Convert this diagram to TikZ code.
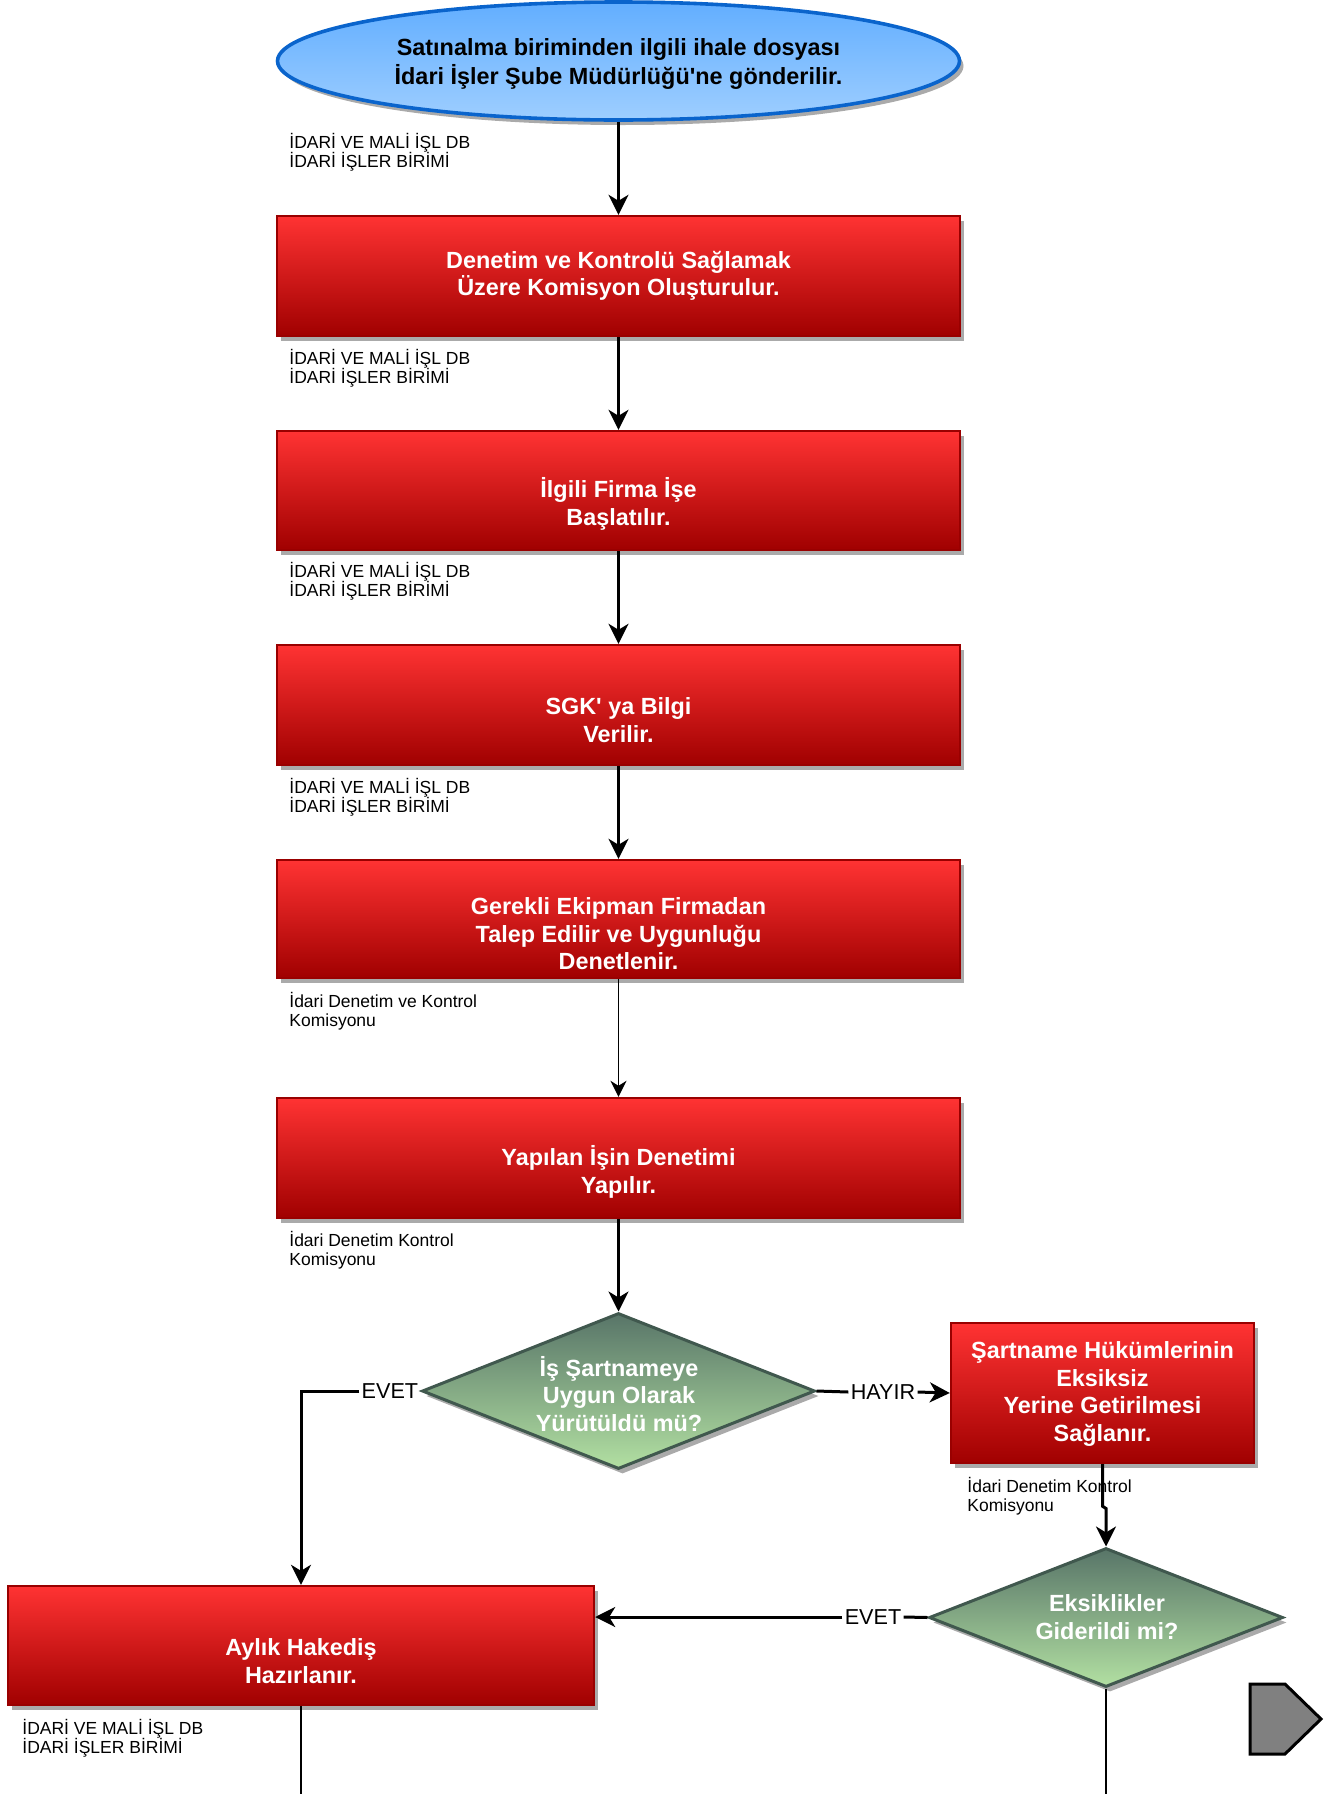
\documentclass[tikz,border=0pt]{standalone}
\usepackage{fontspec}
\setmainfont{Liberation Sans}
\usetikzlibrary{shapes.geometric,shadows,arrows.meta,calc}
\definecolor{redtop}{RGB}{255,51,51}
\definecolor{redbot}{RGB}{160,0,0}
\definecolor{redline}{RGB}{153,0,0}
\definecolor{bluetop}{RGB}{98,174,255}
\definecolor{bluebot}{RGB}{158,206,255}
\definecolor{blueline}{RGB}{10,100,204}
\definecolor{grtop}{RGB}{88,117,104}
\definecolor{grbot}{RGB}{178,224,162}
\definecolor{grline}{RGB}{64,88,78}
\definecolor{shadowc}{RGB}{170,170,170}
\definecolor{pentc}{RGB}{128,128,128}
\begin{document}
\begin{tikzpicture}[x=0.5pt,y=-0.5pt,
  shadowed/.style={drop shadow={shadow xshift=2pt,shadow yshift=-2.5pt,fill=shadowc,opacity=1}},
  procbox/.style={rectangle,draw=redline,line width=1.2pt,top color=redtop,bottom color=redbot,shadowed,inner sep=0pt},
  mainbox/.style={procbox,minimum width=341.5pt,minimum height=59.5pt},
  startell/.style={ellipse,draw=blueline,line width=1.8pt,top color=bluetop,bottom color=bluebot,shadowed,inner sep=0pt,minimum width=341pt,minimum height=59pt},
  decis/.style={diamond,draw=grline,line width=1.5pt,top color=grtop,bottom color=grbot,shadowed,inner sep=0pt},
  boxtext/.style={text=white,font=\bfseries\fontsize{11.7}{13.7}\selectfont,align=center,inner sep=0pt},
  starttext/.style={text=black,font=\bfseries\fontsize{11.7}{14.5}\selectfont,align=center,inner sep=0pt},
  resp/.style={anchor=west,align=left,inner sep=0pt,font=\fontsize{8.75}{9.7}\selectfont},
  branch/.style={inner sep=1pt,font=\fontsize{10.8}{12}\selectfont},
  arrthick/.style={line width=1.5pt,-{Stealth[length=10pt,width=10pt,inset=3pt]}},
  arrthin/.style={line width=0.75pt,-{Stealth[length=8pt,width=8pt,inset=2.5pt]}},
  linethick/.style={line width=1.5pt},
  linethin/.style={line width=0.75pt}
]
\useasboundingbox (0,0) rectangle (1340,1794);

% start ellipse
\node[startell] (e) at (618.5,61) {};
\node[starttext] (te) at (618.5,63.5) {Satınalma biriminden ilgili ihale dosyası\\İdari İşler Şube Müdürlüğü\textquotesingle ne gönderilir.};

% main boxes
\node[mainbox,minimum height=60pt] (b1) at (618.5,276) {};
\node[boxtext] (tb1) at (618.5,276) {Denetim ve Kontrolü Sağlamak\\Üzere Komisyon Oluşturulur.};
\node[mainbox] (b2) at (618.5,490.5) {};
\node[boxtext] (tb2) at (618.5,504) {İlgili Firma İşe\\Başlatılır.};
\node[mainbox,minimum height=60pt] (b3) at (618.5,705) {};
\node[boxtext] (tb3) at (618.5,720) {SGK\textquotesingle\ ya Bilgi\\Verilir.};
\node[mainbox,minimum height=59pt] (b4) at (618.5,919) {};
\node[boxtext] (tb4) at (618.5,934) {Gerekli Ekipman Firmadan\\Talep Edilir ve Uygunluğu\\Denetlenir.};
\node[mainbox,minimum height=60pt] (b5) at (618.5,1158) {};
\node[boxtext] (tb5) at (618.5,1172) {Yapılan İşin Denetimi\\Yapılır.};

% responsibility labels
\node[resp] (r1) at (289,152.5) {İDARİ VE MALİ İŞL DB\\İDARİ İŞLER BİRİMİ};
\node[resp] (r2) at (289,368.5) {İDARİ VE MALİ İŞL DB\\İDARİ İŞLER BİRİMİ};
\node[resp] (r3) at (289,581) {İDARİ VE MALİ İŞL DB\\İDARİ İŞLER BİRİMİ};
\node[resp] (r4) at (289,797.5) {İDARİ VE MALİ İŞL DB\\İDARİ İŞLER BİRİMİ};
\node[resp] (r5) at (289,1011) {İdari Denetim ve Kontrol\\Komisyonu};
\node[resp] (r6) at (289,1250) {İdari Denetim Kontrol\\Komisyonu};

% decision 1
\node[decis,minimum width=196.5pt,minimum height=78pt] (d1) at (618.5,1391) {};
\node[boxtext] (td1) at (619,1394) {İş Şartnameye\\Uygun Olarak\\Yürütüldü mü?};

% right box
\node[procbox,minimum width=151.5pt,minimum height=70pt] (sart) at (1102.5,1393) {};
\node[boxtext] (tsart) at (1102.5,1394) {Şartname Hükümlerinin\\Eksiksiz\\Yerine Getirilmesi\\Sağlanır.};
\node[resp] (r7) at (967,1496) {İdari Denetim Kontrol\\Komisyonu};

% decision 2
\node[decis,minimum width=177pt,minimum height=69.5pt] (d2) at (1106,1617.5) {};
\node[boxtext] (td2) at (1107,1617) {Eksiklikler\\Giderildi mi?};

% monthly box
\node[procbox,minimum width=293pt,minimum height=59.5pt] (ay) at (301,1645.5) {};
\node[boxtext] (tay) at (301,1661) {Aylık Hakediş\\Hazırlanır.};
\node[resp] (r8) at (22,1738) {İDARİ VE MALİ İŞL DB\\İDARİ İŞLER BİRİMİ};

% branch labels
\node[branch,anchor=east] (ev1) at (d1.west) {EVET};
\node[branch] (hay) at (883,1392) {HAYIR};
\node[branch] (ev2) at (873,1617) {EVET};

% connectors
\draw[arrthick] (e.south) -- (b1.north);
\draw[arrthick] (b1.south) -- (b2.north);
\draw[arrthick] (b2.south) -- (b3.north);
\draw[arrthick] (b3.south) -- (b4.north);
\draw[arrthin] (b4.south) -- (b5.north);
\draw[arrthick] (b5.south) -- (d1.north);
\draw[arrthick] (ev1.west) -| (ay.north);
\draw[linethick] (d1.east) -- (hay.west);
\draw[arrthick] (hay.east) -- (sart.west);
\coordinate (j1) at ($(sart.south)+(0,42)$);
\coordinate (j2) at ($(d2.north)+(0,-38)$);
\draw[arrthick] (sart.south) -- (j1) -- (j2) -- (d2.north);
\draw[linethick] (d2.west) -- (ev2.east);
\draw[arrthick] (ev2.west) -- (ev2.west -| ay.east);
\coordinate (endL) at (301,1800);
\coordinate (endR) at (1106,1800);
\draw[line width=1.4pt] (ay.south) -- (endL);
\draw[linethin] (d2.south) -- (endR);

% off-page connector
\draw[line width=1.5pt,fill=pentc] (1250,1684) -- (1285,1684) -- (1321,1719) -- (1285,1754) -- (1250,1754) -- cycle;
\end{tikzpicture}
\end{document}
